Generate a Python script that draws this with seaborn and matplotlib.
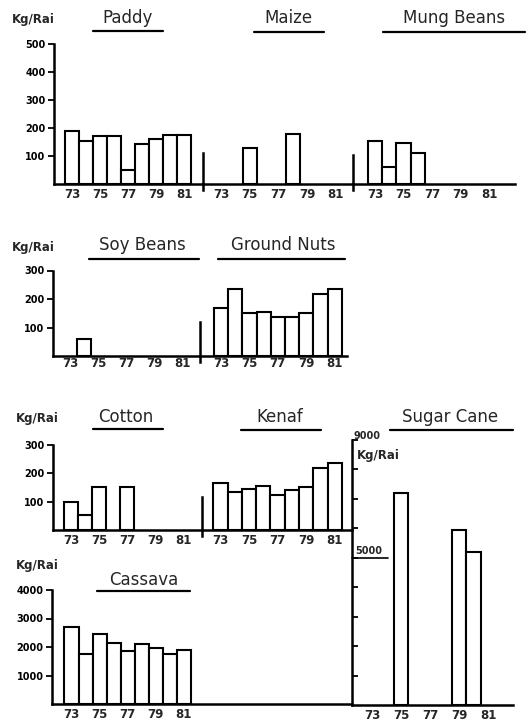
import numpy as np
import pandas as pd
import matplotlib
matplotlib.use("Agg")
import matplotlib.pyplot as plt
import seaborn as sns
from matplotlib.lines import Line2D

# ---------------- data (Kg/Rai, crop years 1973-1981) ----------------
years = [73, 74, 75, 76, 77, 78, 79, 80, 81]
year_labels = ["73", "75", "77", "79", "81"]
nan = np.nan
paddy = [190, 155, 172, 170, 50, 143, 162, 174, 174]
maize = [nan, nan, 130, nan, nan, 180, nan, nan, nan]
mung_beans = [155, 60, 145, 110, nan, nan, nan, nan, nan]
soy_beans = [nan, 60, nan, nan, nan, nan, nan, nan, nan]
ground_nuts = [167, 235, 150, 155, 136, 136, 150, 217, 235]
cotton = [100, 52, 150, nan, 152, nan, nan, nan, nan]
kenaf = [165, 135, 145, 155, 122, 142, 152, 218, 235]
sugar_cane = [nan, nan, 7200, nan, nan, nan, 5950, 5200, nan]
cassava = [2700, 1750, 2450, 2150, 1850, 2100, 1950, 1750, 1900]

sns.set_theme(style="white")
plt.rcParams['font.family'] = ['DejaVu Sans']

W, H = 532, 728
fig = plt.figure(figsize=(W / 100, H / 100), dpi=100)
LW = 1.5


def panel(vals, x0, x1, top, base, ymax, xlim, below=6, pad=3):
    ppu = (base - top) / ymax
    ymin = -below / ppu
    ax = fig.add_axes([x0 / W, 1 - (base + below) / H, (x1 - x0) / W, (base + below - top) / H])
    df = pd.DataFrame({"Year": [str(y) for y in years], "Yield": vals}).dropna()
    sns.barplot(data=df, x="Year", y="Yield", order=[str(y) for y in years],
                color="white", edgecolor="black", linewidth=LW, width=1.0,
                errorbar=None, saturation=1, ax=ax)
    ax.set_xlim(*xlim)
    ax.set_ylim(ymin, ymax)
    ax.set_xlabel("")
    ax.set_ylabel("")
    ax.patch.set_alpha(0)
    for s in ["top", "right"]:
        ax.spines[s].set_visible(False)
    ax.spines['bottom'].set_position(('data', 0))
    ax.spines['bottom'].set_linewidth(1.8)
    ax.spines['left'].set_linewidth(1.8)
    ax.spines['bottom'].set_color("black")
    ax.spines['left'].set_color("black")
    ax.set_xticks([0, 2, 4, 6, 8], year_labels)
    ax.tick_params(axis='x', length=0, pad=pad, labelsize=8.5)
    for t in ax.get_xticklabels():
        t.set_fontweight("bold")
    return ax


def yaxis(ax, ticks, labels=True, direction="out"):
    ax.set_yticks(ticks, [str(t) for t in ticks] if labels else [""] * len(ticks))
    ax.spines['left'].set_bounds(0, ticks[-1])
    ax.tick_params(axis='y', left=True, length=4, width=1.3, direction=direction,
                   pad=2, labelsize=7, colors="black")
    for t in ax.get_yticklabels():
        t.set_fontweight("bold")


def divider(ax, h):
    ax.set_yticks([])
    ax.spines['left'].set_bounds(ax.get_ylim()[0], h)


def text(x, y, s, size=12, ha="left", weight="normal"):
    fig.text(x / W, 1 - y / H, s, ha=ha, va="center", fontsize=size, fontweight=weight)


def uline(x0, x1, y, lw=1.6):
    fig.add_artist(Line2D([x0 / W, x1 / W], [1 - y / H] * 2, color="black", lw=lw,
                          transform=fig.transFigure))


# ---- row 1 ----
ax = panel(paddy, 54, 203, 44, 184, 500, (-1.29, 9.36))
yaxis(ax, [100, 200, 300, 400, 500])
ax = panel(maize, 203, 353, 44, 184, 500, (-1.26, 9.2))
divider(ax, 110)
ax = panel(mung_beans, 353, 515, 44, 184, 500, (-1.54, 9.8))
divider(ax, 105)

# ---- row 2 ----
ax = panel(soy_beans, 53, 200, 270.5, 356, 300, (-1.21, 9.29), pad=1)
yaxis(ax, [100, 200, 300])
ax = panel(ground_nuts, 200, 347, 270.5, 356, 300, (-1.48, 8.87), pad=1)
divider(ax, 120)

# ---- row 3 ----
ax = panel(cotton, 53, 202, 444.5, 530, 300, (-1.29, 9.36))
yaxis(ax, [100, 200, 300])
ax = panel(kenaf, 202, 352, 444.5, 530, 300, (-1.29, 9.2))
divider(ax, 115)

# ---- sugar cane ----
ax = panel(sugar_cane, 352, 513, 440, 705, 9000, (-1.38, 9.72), below=0.5)
yaxis(ax, list(range(1000, 10000, 1000)), labels=False, direction="in")

# ---- cassava ----
ax = panel(cassava, 52, 352, 590, 704, 4000, (-1.39, 20.0), below=0.5)
yaxis(ax, [1000, 2000, 3000, 4000])

# ---- titles ----
text(12, 20, "Kg/Rai", size=8.5, weight="bold")
text(128, 18, "Paddy", ha="center")
uline(93, 163, 31)
text(288, 18, "Maize", ha="center")
uline(254, 324, 32)
text(454, 18, "Mung Beans", ha="center")
uline(383, 525, 32)

text(12, 247, "Kg/Rai", size=8.5, weight="bold")
text(142, 245, "Soy Beans", ha="center")
uline(89, 199, 259)
text(283, 245, "Ground Nuts", ha="center")
uline(218, 345, 259)

text(16, 419, "Kg/Rai", size=8.5, weight="bold")
text(126, 417, "Cotton", ha="center")
uline(93, 163, 429)
text(280, 417, "Kenaf", ha="center")
uline(241, 321, 430)
text(450, 417, "Sugar Cane", ha="center")
uline(390, 513, 430)
text(353, 436, "9000", size=7, weight="bold")
text(357, 455, "Kg/Rai", size=8.5, weight="bold")
text(355, 551, "5000", size=7, weight="bold")
uline(352, 388, 558, lw=1.2)

text(16, 565, "Kg/Rai", size=8.5, weight="bold")
text(144, 580, "Cassava", ha="center")
uline(97, 190, 591)

fig.savefig("out.png", dpi=100)
